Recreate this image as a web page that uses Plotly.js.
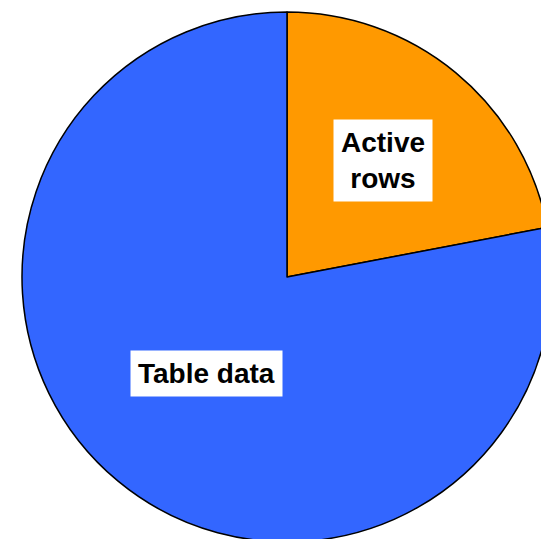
<!DOCTYPE html>
<html>
<head>
<meta charset="utf-8">
<script src="https://cdn.plot.ly/plotly-3.0.1.min.js"></script>
<style>
html,body{margin:0;padding:0;overflow:hidden;background:#fff;}
#chart{width:600px;height:600px;}
</style>
</head>
<body>
<div id="chart"></div>
<script>
var labels = ["Active rows", "Table data"];
var labelText = ["Active<br>rows", "Table data"];
var values = [22, 78];
var colors = ["#FF9900", "#3366FF"];

var W = 600, H = 600, L = 22, T = 12, P = 530;
var R = P / 2, CX = L + R, CY = T + R;
var labelRadius = [0.57, 0.475];

var total = values.reduce(function(a, b){ return a + b; }, 0);
var annotations = [];
var start = 0;
for (var i = 0; i < values.length; i++) {
  var frac = values[i] / total;
  var mid = (start + frac / 2) * 2 * Math.PI;
  start += frac;
  var px = CX + labelRadius[i] * R * Math.sin(mid);
  var py = CY - labelRadius[i] * R * Math.cos(mid);
  annotations.push({
    text: labelText[i],
    xref: "paper", yref: "paper",
    x: (px - L) / P, y: 1 - (py - T) / P,
    xanchor: "center", yanchor: "middle",
    showarrow: false,
    bgcolor: "#FFFFFF",
    borderpad: 7,
    font: {family: "Liberation Sans, Arial, sans-serif", size: 28, color: "#000000", weight: "bold"}
  });
}

var data = [{
  type: "pie",
  labels: labels,
  values: values,
  sort: false,
  direction: "clockwise",
  rotation: 0,
  textinfo: "none",
  hoverinfo: "none",
  marker: {colors: colors, line: {color: "#000000", width: 1.5}}
}];

var layout = {
  width: W, height: H,
  margin: {l: L, t: T, r: W - L - P, b: H - T - P, pad: 0},
  showlegend: false,
  paper_bgcolor: "#FFFFFF",
  annotations: annotations
};

Plotly.newPlot("chart", data, layout, {staticPlot: true, displayModeBar: false});
</script>
</body>
</html>
